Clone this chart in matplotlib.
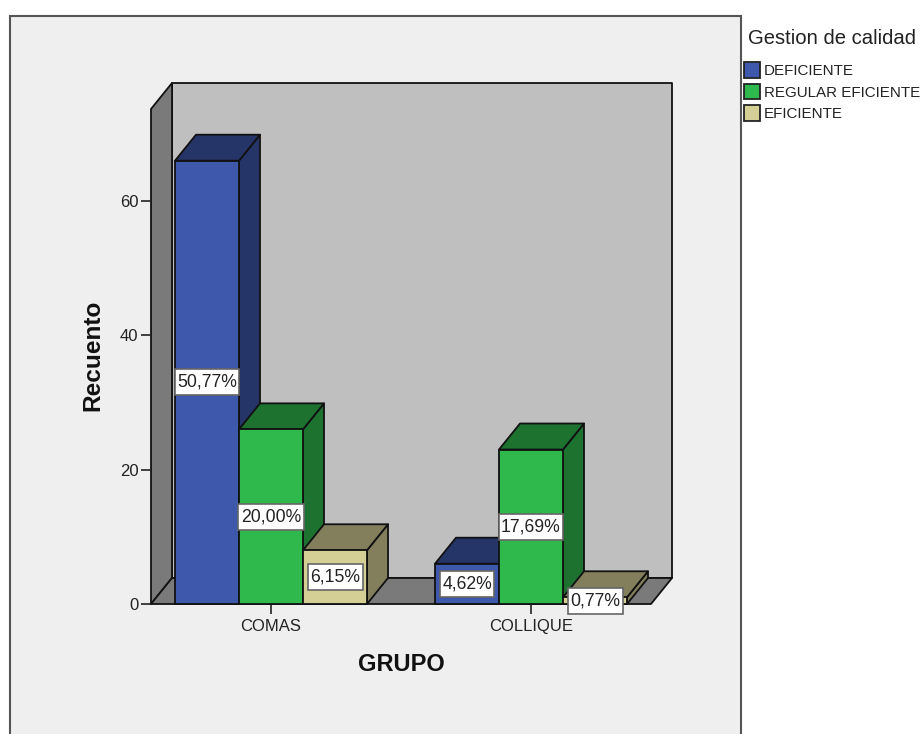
import matplotlib
matplotlib.use("Agg")
import matplotlib.pyplot as plt
from matplotlib.patches import Polygon, Rectangle, Patch
from matplotlib.path import Path

plt.rcParams['font.family'] = ['Liberation Sans', 'DejaVu Sans']

# Data
groups = ["COMAS", "COLLIQUE"]
series = ["DEFICIENTE", "REGULAR EFICIENTE", "EFICIENTE"]
comas_counts = [66, 26, 8]
collique_counts = [6, 23, 1]
comas_labels = ["50,77%", "20,00%", "6,15%"]
collique_labels = ["4,62%", "17,69%", "0,77%"]

# Styling
front_colors = ["#3e58ac", "#2fb84b", "#d4cf94"]
shade_colors = ["#263567", "#1d722f", "#837f5c"]
PANEL = "#efefef"
BACK_WALL = "#bfbfbf"
SIDE_WALL = "#7a7a7a"
INK = "#111111"
W, H = 922, 734
LW = 1.3

fig = plt.figure(figsize=(W / 100, H / 100), dpi=100, facecolor="white")

# Outer chart frame, running off the bottom edge
fig.add_artist(Rectangle((10 / W, -0.01), 731 / W, 1.01 - 16 / H, transform=fig.transFigure,
                         facecolor=PANEL, edgecolor="#555555", linewidth=1.5, zorder=-1))

# Axes occupy the front plane of the 3D box
ax = fig.add_axes([151 / W, 1 - 604 / H, 500 / W, 495 / H])
px_per_group = 260.0
px_per_unit = 403 / 60
ax.set_xlim(-120 / px_per_group, 1 + 120 / px_per_group)
ax.set_ylim(0, 495 / px_per_unit)
ax.patch.set_visible(False)
for s in ax.spines.values():
    s.set_visible(False)

dx = 21 / px_per_group
dy = 26 / px_per_unit
x0, x1 = ax.get_xlim()
y1 = ax.get_ylim()[1]


def box_face(points, color, z):
    ax.add_patch(Polygon(points, closed=True, facecolor=color, edgecolor=INK,
                         linewidth=LW, joinstyle="round", clip_on=False, zorder=z))


def label_box(x, y, w, h, mutation_size):
    """Value tag: snug around the text horizontally, fixed height in pixels."""
    left, right = x - 2.5, x + w + 2.5
    cy = y + h / 2
    bottom, top = cy - 13, cy + 13
    return Path([(left, bottom), (right, bottom), (right, top), (left, top), (left, bottom)], closed=True)


# Walls and floor
box_face([(x0 + dx, 0 + dy), (x1 + dx, 0 + dy), (x1 + dx, y1 + dy), (x0 + dx, y1 + dy)], BACK_WALL, 1)
box_face([(x0, 0), (x0 + dx, dy), (x0 + dx, y1 + dy), (x0, y1)], SIDE_WALL, 1.1)
box_face([(x0, 0), (x1, 0), (x1 + dx, dy), (x0 + dx, dy)], SIDE_WALL, 1.2)

# Bars, each with front, side and top faces
bar_w = 64 / px_per_group
z = 2.0
for g, (counts, labels) in enumerate([(comas_counts, comas_labels), (collique_counts, collique_labels)]):
    for i, (v, lab) in enumerate(zip(counts, labels)):
        xc = g + (i - 1) * bar_w
        xl, xr = xc - bar_w / 2, xc + bar_w / 2
        box_face([(xr, 0), (xr + dx, dy), (xr + dx, v + dy), (xr, v)], shade_colors[i], z)
        box_face([(xl, v), (xr, v), (xr + dx, v + dy), (xl + dx, v + dy)], shade_colors[i], z)
        ax.bar(xc, v, width=bar_w, color=front_colors[i], edgecolor=INK, linewidth=LW,
               zorder=z + 0.1, clip_on=False)
        ax.text(xc, v / 2, lab, ha="center", va="center", fontsize=12.7, color="#222222", zorder=10,
                bbox=dict(boxstyle=label_box, facecolor="white", edgecolor="#666666", linewidth=1.2))
        z += 0.2

# Axes ticks and titles
ax.set_xticks([0, 1], groups)
ax.set_yticks([0, 20, 40, 60])
ax.tick_params(axis="both", labelsize=12, labelcolor="#222222", color="#222222", width=1.2, length=7.5)
ax.tick_params(axis="x", pad=3)
ax.tick_params(axis="y", pad=1.5)
ax.set_xlabel("GRUPO", fontsize=17, fontweight="bold", color="#111111", labelpad=14)
fig.text(93 / W, 1 - 355 / H, "Recuento", rotation=90, ha="center", va="center",
         fontsize=17.6, fontweight="bold", color="#111111")

# Legend
handles = [Patch(facecolor=c, edgecolor="#222222", linewidth=1.3) for c in front_colors]
fig.text(748 / W, 1 - 38 / H, "Gestion de calidad", ha="left", va="center",
         fontsize=14.6, color="#222222")
fig.legend(handles, series, loc="upper left", bbox_to_anchor=(741 / W, 1 - 59 / H), frameon=False,
           fontsize=10.9, handlelength=1.07, handleheight=1.2, handletextpad=0.25,
           labelspacing=0.38, borderpad=0.2, borderaxespad=0, labelcolor="#222222")

fig.savefig("out.png", dpi=100, facecolor="white")
